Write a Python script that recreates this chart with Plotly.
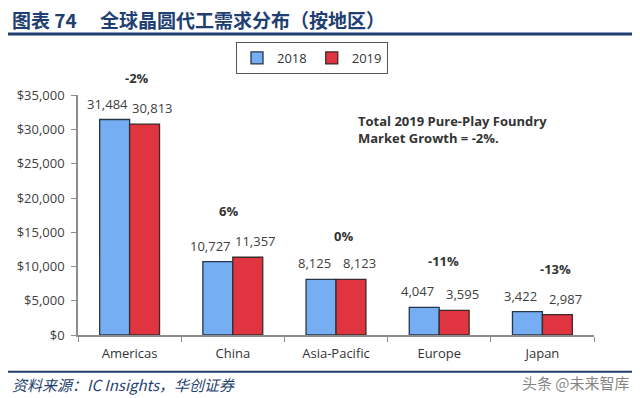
import plotly.graph_objects as go

regions = ["Americas", "China", "Asia-Pacific", "Europe", "Japan"]
v2018 = [31484, 10727, 8125, 4047, 3422]
v2019 = [30813, 11357, 8123, 3595, 2987]
growth = ["-2%", "6%", "0%", "-11%", "-13%"]
yticks = [0, 5000, 10000, 15000, 20000, 25000, 30000, 35000]
ytext = ["$0", "$5,000", "$10,000", "$15,000", "$20,000", "$25,000", "$30,000", "$35,000"]

# plot area in pixels
L, R, T, B = 78, 594, 93, 335
def px(x): return (x - L) / (R - L)
def py(y): return (B - y) / (B - T)

growth_pos = [(137, 75), (228, 210), (343, 235), (443, 260), (555, 268)]

fig = go.Figure()
fig.add_trace(go.Bar(name="2018", x=regions, y=v2018,
                     marker=dict(color="#76aef4", line=dict(color="#26364a", width=1.3))))
fig.add_trace(go.Bar(name="2019", x=regions, y=v2019,
                     marker=dict(color="#e03441", line=dict(color="#3a2a2a", width=1.3))))

annots = []
vfont = dict(family="Open Sans", size=13, color="#404040")
for r, a, b in zip(regions, v2018, v2019):
    annots.append(dict(x=r, y=a, xref="x", yref="y", text=f"{a:,}", showarrow=False, xshift=-22, yshift=5,
                       xanchor="center", yanchor="bottom", font=vfont))
    annots.append(dict(x=r, y=b, xref="x", yref="y", text=f"{b:,}", showarrow=False, xshift=23, yshift=5,
                       xanchor="center", yanchor="bottom", font=vfont))
for g, (gx, gy) in zip(growth, growth_pos):
    annots.append(dict(x=px(gx), y=py(gy), xref="paper", yref="paper", text=f"<b>{g}</b>", showarrow=False,
                       xanchor="center", yanchor="middle",
                       font=dict(family="Open Sans", size=13, color="#333333")))
annots.append(dict(x=px(356), y=py(108), xref="paper", yref="paper", xanchor="left", yanchor="top", align="left",
                   text="<b>Total 2019 Pure-Play Foundry<br>Market Growth = -2%.</b>", showarrow=False,
                   font=dict(family="Open Sans", size=13, color="#333333")))
annots.append(dict(x=px(10), y=py(16), xref="paper", yref="paper", xanchor="left", yanchor="middle",
                   text="<b>图表 74　 全球晶圆代工需求分布（按地区）</b>", showarrow=False,
                   font=dict(family="Noto Sans CJK SC", size=19, color="#1f3f73")))
annots.append(dict(x=px(10), y=py(385), xref="paper", yref="paper", xanchor="left", yanchor="middle",
                   text="<i>资料来源：IC Insights，华创证券</i>", showarrow=False,
                   font=dict(family="Noto Sans CJK SC", size=15, color="#1f3f73")))
annots.append(dict(x=px(632), y=py(383), xref="paper", yref="paper", xanchor="right", yanchor="middle",
                   text="头条 @未来智库", showarrow=False,
                   font=dict(family="Noto Sans CJK SC", size=15, color="rgba(90,90,90,0.75)")))

shapes = [
    dict(type="line", xref="paper", yref="paper", x0=px(8), x1=px(632), y0=py(31), y1=py(31),
         line=dict(color="#1f3f73", width=3)),
    dict(type="line", xref="paper", yref="paper", x0=px(8), x1=px(632), y0=py(372), y1=py(372),
         line=dict(color="#1f3f73", width=2)),
]

fig.update_layout(
    width=640, height=398,
    margin=dict(l=L, r=640 - R, t=T, b=398 - B),
    paper_bgcolor="white", plot_bgcolor="white",
    barmode="group", bargap=0.42, bargroupgap=0,
    showlegend=True,
    legend=dict(orientation="h", x=236 / 640, y=1 - 42 / 398, xref="container", yref="container",
                xanchor="left", yanchor="top",
                bgcolor="white", bordercolor="#555555", borderwidth=1,
                font=dict(family="Open Sans", size=13, color="#333333"), itemwidth=30, traceorder="normal"),
    annotations=annots, shapes=shapes,
    xaxis=dict(showline=True, linecolor="#8c8c8c", linewidth=1.5, ticks="outside", tickson="boundaries",
               ticklen=5, tickcolor="#8c8c8c", tickfont=dict(family="Open Sans", size=13, color="#333333"),
               ticklabelstandoff=6, showgrid=False),
    yaxis=dict(range=[0, 35000], tickvals=yticks, ticktext=ytext, showline=True, linecolor="#8c8c8c", linewidth=1.5,
               ticks="outside", ticklen=5, tickcolor="#8c8c8c", showgrid=False, zeroline=False,
               ticklabelstandoff=4, tickfont=dict(family="Open Sans", size=13, color="#404040")),
    font=dict(family="Open Sans"),
)

fig.write_html("out.html", config={"displayModeBar": False},
               post_script="document.body.style.margin='0';")
